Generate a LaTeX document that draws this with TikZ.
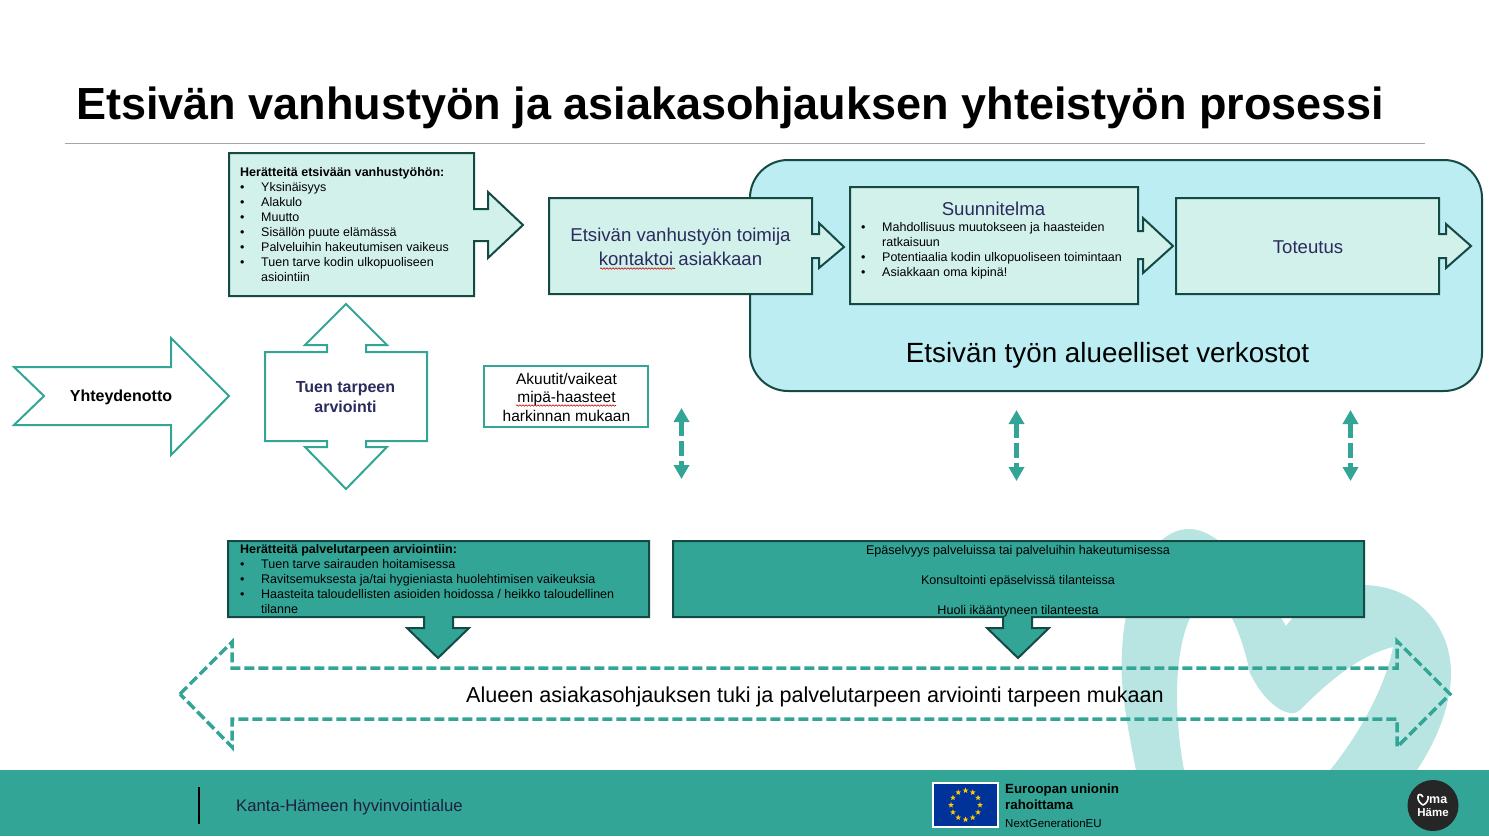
\documentclass[tikz,border=0pt]{standalone}
\usepackage{fontspec}
\usepackage{xcolor}
\usepackage{tikz}
\setmainfont{Liberation Sans}
\usetikzlibrary{shapes.geometric, arrows.meta, decorations.pathmorphing}
\definecolor{Hame_Teal}{HTML}{33A596}
\definecolor{Hame_Dark}{HTML}{154A44}
\definecolor{Hame_Pale}{HTML}{D2F1EB}
\definecolor{Hame_Sky}{HTML}{BBEDF2}
\definecolor{Hame_Heart}{HTML}{B8E5E2}
\definecolor{Hame_Ink}{HTML}{2B2B5E}
\definecolor{EU_Blue}{HTML}{00339A}
\definecolor{EU_Gold}{HTML}{FFCC00}
\newcommand{\bul}[1]{\makebox[21pt][l]{\textbullet}#1}
\newcommand{\bulb}[1]{\makebox[21pt][l]{}#1}
\tikzset{
  palebox/.style={draw=Hame_Dark, line width=2pt, fill=Hame_Pale},
  tealbox/.style={draw=Hame_Dark, line width=2pt, fill=Hame_Teal},
  whitebox/.style={draw=Hame_Teal, line width=2pt, fill=white},
  smalltxt/.style={font=\fontsize{12.5}{15}\selectfont, align=left, anchor=north west, inner sep=0pt},
  midtxt/.style={font=\fontsize{18.6}{24}\selectfont, align=center, text=Hame_Ink, inner sep=0pt},
  updown/.style={draw=Hame_Teal, line width=5pt, dash pattern=on 15pt off 5pt,
    {Triangle[length=14pt,width=15pt,fill=Hame_Teal]}-{Triangle[length=14pt,width=15pt,fill=Hame_Teal]}},
  wavy/.style={draw=red!80!black, line width=0.6pt, decorate, decoration={snake, amplitude=0.7pt, segment length=3pt}}
}

\begin{document}
\begin{tikzpicture}[x=1pt, y=-1pt]
\useasboundingbox (0,0) rectangle (1489,836);
% --- Heart behind everything ---
\fill[Hame_Heart] (1136,770) .. controls (1124,710) and (1120,680) .. (1122,653)
  .. controls (1124,590) and (1150,529) .. (1189,529)
  .. controls (1225,529) and (1265,590) .. (1286,626)
  .. controls (1305,600) and (1330,585) .. (1362,585)
  .. controls (1415,585) and (1451,625) .. (1451,673)
  .. controls (1451,705) and (1437,740) .. (1417,770)
  -- (1330,770)
  .. controls (1355,740) and (1385,690) .. (1393,647)
  .. controls (1360,655) and (1330,680) .. (1300,710)
  .. controls (1290,720) and (1265,705) .. (1250,673)
  .. controls (1245,650) and (1240,635) .. (1232,618)
  .. controls (1225,595) and (1215,570) .. (1207,570)
  .. controls (1198,570) and (1192,600) .. (1190,618)
  .. controls (1175,650) and (1173,710) .. (1184,770) -- cycle;
% --- Title ---
\node[font=\fontsize{45}{50}\selectfont\bfseries, anchor=west, inner sep=0pt] (title) at (76,108)
  {Etsivän vanhustyön ja asiakasohjauksen yhteistyön prosessi};
\draw[gray!70, line width=1pt] (65,143.5) -- (1425,143.5);
% --- Regional networks ---
\draw[draw=Hame_Dark, line width=2pt, fill=Hame_Sky, rounded corners=38pt] (750,160) rectangle (1482,391);
\node[font=\fontsize{27.8}{30}\selectfont, inner sep=0pt] (verkostot) at (1107.5,355) {Etsivän työn alueelliset verkostot};
% --- Top row of boxes ---
\draw[palebox] (229,153) -- (474,153) -- (474,209) -- (488,209) -- (488,192) -- (523,225) -- (488,258)
  -- (488,241) -- (474,241) -- (474,296) -- (229,296) -- cycle;
\node[smalltxt] (heratteet) at (240,167) {\textbf{Herätteitä etsivään vanhustyöhön:}\\
  \bul{Yksinäisyys}\\ \bul{Alakulo}\\ \bul{Muutto}\\ \bul{Sisällön puute elämässä}\\
  \bul{Palveluihin hakeutumisen vaikeus}\\ \bul{Tuen tarve kodin ulkopuoliseen}\\ \bulb{asiointiin}};
\draw[palebox] (549,198) -- (812,198) -- (812,234) -- (819,234) -- (819,223) -- (844,247) -- (819,268)
  -- (819,258) -- (812,258) -- (812,294) -- (549,294) -- cycle;
\node[midtxt] (kontakti) at (680.5,246.5) {Etsivän vanhustyön toimija\\kontaktoi asiakkaan};
\draw[palebox] (850,187) -- (1138,187) -- (1138,231) -- (1143,231) -- (1143,218) -- (1173,246) -- (1143,273)
  -- (1143,259) -- (1138,259) -- (1138,304) -- (850,304) -- cycle;
\node[midtxt, anchor=center] (suunnitelma) at (993.5,209) {Suunnitelma};
\node[smalltxt] (suunnlista) at (861,222.5) {\bul{Mahdollisuus muutokseen ja haasteiden}\\ \bulb{ratkaisuun}\\
  \bul{Potentiaalia kodin ulkopuoliseen toimintaan}\\ \bul{Asiakkaan oma kipinä!}};
\draw[palebox] (1176,198) -- (1439,198) -- (1439,234) -- (1446,234) -- (1446,224) -- (1471,246) -- (1446,268)
  -- (1446,258) -- (1439,258) -- (1439,294) -- (1176,294) -- cycle;
\node[midtxt] (toteutus) at (1308,247) {Toteutus};
% --- Left side ---
\draw[whitebox] (14,367) -- (171,367) -- (171,338) -- (229,396) -- (171,455) -- (171,425) -- (14,425) -- (44,396) -- cycle;
\node[font=\fontsize{16}{20}\selectfont\bfseries, inner sep=0pt] (yhteys) at (121,397.5) {Yhteydenotto};
\draw[whitebox] (265,352) -- (327,352) -- (327,345) -- (305,345) -- (346,304) -- (387,345) -- (366,345) -- (366,352)
  -- (427,352) -- (427,441) -- (366,441) -- (366,447) -- (387,447) -- (346,489) -- (305,447) -- (327,447) -- (327,441)
  -- (265,441) -- cycle;
\node[font=\fontsize{16}{19.5}\selectfont\bfseries, align=center, text=Hame_Ink, inner sep=0pt] (arviointi) at (345.5,397) {Tuen tarpeen\\arviointi};
\draw[whitebox] (484,366) rectangle (648,427);
\node[font=\fontsize{15.5}{18.5}\selectfont, align=center, inner sep=0pt] (akuutit) at (566.5,397) {Akuutit/vaikeat\\mipä-haasteet\\harkinnan mukaan};
% --- Spell-check marks ---
\draw[wavy] (600,268.5) -- (675,268.5);
\draw[wavy] (516,405.5) -- (616,405.5);
% --- Vertical dashed arrows ---
\foreach \nm/\x/\ya/\yb in {a/681.5/408/479, b/1016.5/410/481, c/1350.5/410/481} {
  \coordinate (up\nm) at (\x,\ya);
  \coordinate (down\nm) at (\x,\yb);
  \draw[updown] (up\nm) -- (down\nm);
}
% --- Lower boxes ---
\draw[tealbox] (228,541) -- (649,541) -- (649,617) -- (453,617) -- (453,628) -- (469,628) -- (438,658)
  -- (407,628) -- (424,628) -- (424,617) -- (228,617) -- cycle;
\node[smalltxt] (palvelu) at (240,544.5) {\textbf{Herätteitä palvelutarpeen arviointiin:}\\
  \bul{Tuen tarve sairauden hoitamisessa}\\ \bul{Ravitsemuksesta ja/tai hygieniasta huolehtimisen vaikeuksia}\\
  \bul{Haasteita taloudellisten asioiden hoidossa / heikko taloudellinen}\\ \bulb{tilanne}};
\draw[tealbox] (673,541) -- (1364,541) -- (1364,617) -- (1032,617) -- (1032,628) -- (1049,628) -- (1018,658)
  -- (987,628) -- (1003,628) -- (1003,617) -- (673,617) -- cycle;
\foreach \nm/\y/\txt in {epa/551/Epäselvyys palveluissa tai palveluihin hakeutumisessa,
    kons/581/Konsultointi epäselvissä tilanteissa, huoli/611/Huoli ikääntyneen tilanteesta} {
  \node[font=\fontsize{12.6}{15}\selectfont, inner sep=0pt] (\nm) at (1018,\y) {\txt};
}
% --- Dashed double arrow ---
\draw[draw=Hame_Teal, line width=3.5pt, dash pattern=on 10pt off 4pt] (180,694) -- (232,642) -- (232,668) -- (1397,668)
  -- (1397,641) -- (1450,694) -- (1397,747) -- (1397,719) -- (232,719) -- (232,747) -- cycle;
\node[font=\fontsize{21.6}{24}\selectfont, inner sep=0pt] (tuki) at (815,696.5) {Alueen asiakasohjauksen tuki ja palvelutarpeen arviointi tarpeen mukaan};
% --- Footer ---
\fill[Hame_Teal] (0,770) rectangle (1489,836);
\draw[black, line width=1.5pt] (199,787) -- (199,824);
\node[font=\fontsize{16.7}{20}\selectfont, anchor=west, text=Hame_Ink!70!black, inner sep=0pt] (kanta) at (236,807.5) {Kanta-Hämeen hyvinvointialue};
\draw[draw=white, line width=1.5pt, fill=EU_Blue] (933,783) rectangle (998,827);
\foreach \i in {0,30,...,330} {
  \node[star, star points=5, star point ratio=2.4, fill=EU_Gold, inner sep=0pt, minimum size=6pt] (eustar\i) at ({965.5+14.5*cos(\i)},{805+14.5*sin(\i)}) {};
}
\node[font=\fontsize{13.3}{16}\selectfont\bfseries, align=left, anchor=north west, inner sep=0pt] (euroopan) at (1005,783.5) {Euroopan unionin\\rahoittama};
\node[font=\fontsize{11.5}{15}\selectfont, anchor=west, inner sep=0pt] (nextgen) at (1005,823) {NextGenerationEU};
\node[circle, fill=black!85, minimum size=51pt, inner sep=0pt] (logo) at (1433,805.5) {};
\draw[white, line width=1.6pt, line join=round] (1423,797) .. controls (1421,793) and (1417,794) .. (1418,798)
  .. controls (1418,801) and (1421,804) .. (1423,805) .. controls (1426,804) and (1429,800) .. (1428,796);
\node[font=\fontsize{12.5}{14}\selectfont\bfseries, text=white, anchor=west, inner sep=0pt] (logoma) at (1429,800.5) {ma};
\node[font=\fontsize{11.5}{14}\selectfont\bfseries, text=white, inner sep=0pt] (logohame) at (1433,812.5) {Häme};
\end{tikzpicture}
\end{document}
